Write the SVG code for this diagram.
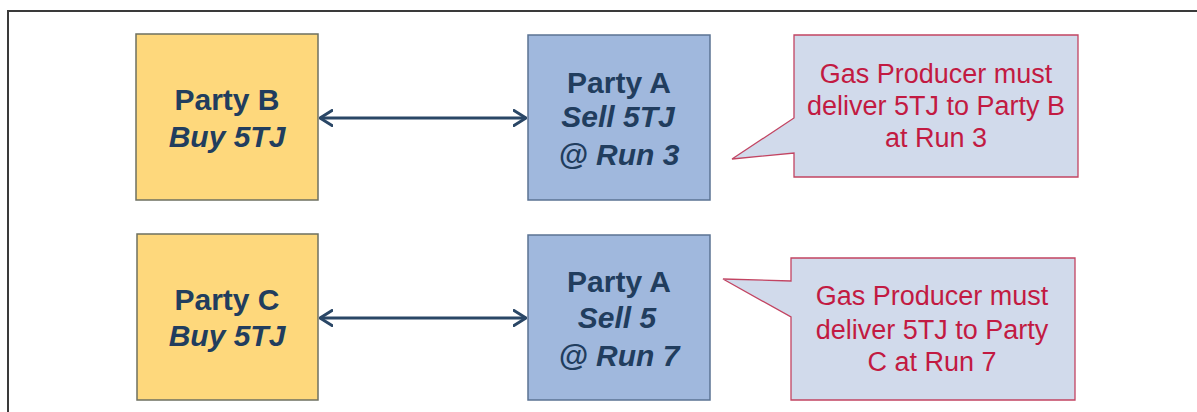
<svg xmlns="http://www.w3.org/2000/svg" width="1197" height="412" viewBox="0 0 1197 412">
  <defs>
    <style>
      .frame { fill: none; stroke: #3a3a3a; stroke-width: 2; }
      .buyer { fill: #FED87C; stroke: #6E7060; stroke-width: 1.5; }
      .seller { fill: #A0B8DD; stroke: #5B7393; stroke-width: 1.5; }
      .note { fill: #D1DAEB; stroke: #C24462; stroke-width: 1.3; }
      .lbl { font-family: "Liberation Sans", Arial, sans-serif; font-weight: bold; font-size: 30px; fill: #213D5E; text-anchor: middle; }
      .it { font-style: italic; }
      .ntxt { font-family: "Liberation Sans", Arial, sans-serif; font-size: 27px; fill: #C21A42; text-anchor: middle; }
      .link { stroke: #2A4766; stroke-width: 3; fill: none; marker-start: url(#head); marker-end: url(#head); }
    </style>
    <marker id="head" viewBox="0 0 14 18" refX="13" refY="9" markerWidth="14" markerHeight="18" markerUnits="userSpaceOnUse" orient="auto-start-reverse">
      <path d="M1,1.5 L13,9 L1,16.5" fill="none" stroke="#2A4766" stroke-width="3" stroke-linecap="round" stroke-linejoin="round"/>
    </marker>
  </defs>

  <rect width="1197" height="412" fill="#ffffff"/>

  <!-- surrounding frame: top and left edges only -->
  <path class="frame" d="M8,420 L8,11 L1197,11"/>

  <!-- upper row -->
  <g id="party-b">
    <rect class="buyer" x="136" y="34" width="182" height="166"/>
    <text class="lbl" x="227" y="110">Party B</text>
    <text class="lbl it" x="227" y="147">Buy 5TJ</text>
  </g>

  <g id="party-a-run3">
    <rect class="seller" x="528" y="35" width="182" height="165"/>
    <text class="lbl" x="619" y="93">Party A</text>
    <text class="lbl it" x="618" y="127">Sell 5TJ</text>
    <text class="lbl it" x="619" y="165">@ Run 3</text>
  </g>

  <g id="note-run3">
    <path class="note" d="M794,35 L1078,35 L1078,177 L794,177 L794,153 L732,159 L794,118 Z"/>
    <text class="ntxt" x="936" y="83">Gas Producer must</text>
    <text class="ntxt" x="936" y="115">deliver 5TJ to Party B</text>
    <text class="ntxt" x="936" y="147">at Run 3</text>
  </g>

  <!-- lower row -->
  <g id="party-c">
    <rect class="buyer" x="137" y="234" width="181" height="166"/>
    <text class="lbl" x="227" y="310">Party C</text>
    <text class="lbl it" x="227" y="346">Buy 5TJ</text>
  </g>

  <g id="party-a-run7">
    <rect class="seller" x="528" y="235" width="182" height="165"/>
    <text class="lbl" x="619" y="292">Party A</text>
    <text class="lbl it" x="617" y="328">Sell 5</text>
    <text class="lbl it" x="619" y="366">@ Run 7</text>
  </g>

  <g id="note-run7">
    <path class="note" d="M791,258 L1075,258 L1075,400 L791,400 L791,317 L723,279 L791,281 Z"/>
    <text class="ntxt" x="932" y="305">Gas Producer must</text>
    <text class="ntxt" x="932" y="339">deliver 5TJ to Party</text>
    <text class="ntxt" x="932" y="371">C at Run 7</text>
  </g>

  <!-- two-way links between buyers and seller -->
  <g id="connectors">
    <line class="link" x1="320" y1="118" x2="526" y2="118"/>
    <line class="link" x1="320" y1="318" x2="526" y2="318"/>
  </g>
</svg>
